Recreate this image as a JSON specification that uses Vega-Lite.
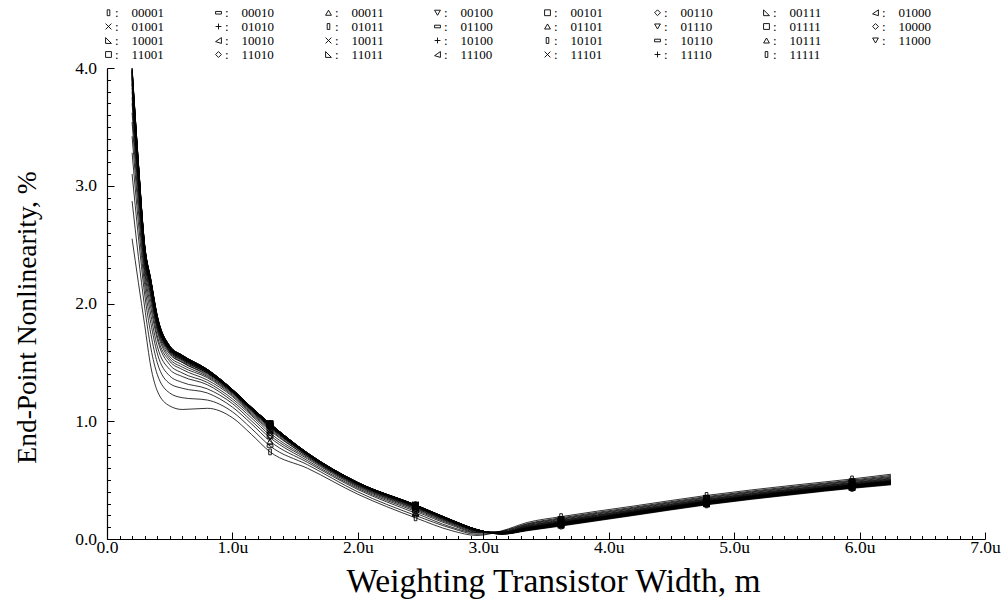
{
"$schema": "https://vega.github.io/schema/vega-lite/v6.json",
"width": 878, "height": 471,
"autosize": {"type": "none"},
"padding": {"left": 107, "top": 68, "right": 23, "bottom": 67},
"background": "white",
"config": {"view": {"stroke": null}, "font": "Liberation Serif"},
"data": {"values": [
{"s":"00001","x":0.2,"y":2.55},{"s":"00001","x":0.25,"y":2.18},{"s":"00001","x":0.3,"y":1.82},{"s":"00001","x":0.35,"y":1.46},{"s":"00001","x":0.4,"y":1.26},{"s":"00001","x":0.5,"y":1.13},{"s":"00001","x":0.6,"y":1.10},{"s":"00001","x":0.8,"y":1.11},{"s":"00001","x":1,"y":1.03},{"s":"00001","x":1.15,"y":0.89},{"s":"00001","x":1.3,"y":0.74},{"s":"00001","x":1.6,"y":0.60},{"s":"00001","x":2,"y":0.38},{"s":"00001","x":2.46,"y":0.18},{"s":"00001","x":2.75,"y":0.07},{"s":"00001","x":2.95,"y":0.03},{"s":"00001","x":3.15,"y":0.07},{"s":"00001","x":3.35,"y":0.14},{"s":"00001","x":3.62,"y":0.19},{"s":"00001","x":4.2,"y":0.28},{"s":"00001","x":4.78,"y":0.37},{"s":"00001","x":5.5,"y":0.46},{"s":"00001","x":5.94,"y":0.51},{"s":"00001","x":6.25,"y":0.55},
{"s":"00010","x":0.2,"y":2.87},{"s":"00010","x":0.25,"y":2.40},{"s":"00010","x":0.3,"y":1.97},{"s":"00010","x":0.35,"y":1.62},{"s":"00010","x":0.4,"y":1.40},{"s":"00010","x":0.5,"y":1.24},{"s":"00010","x":0.6,"y":1.20},{"s":"00010","x":0.8,"y":1.18},{"s":"00010","x":1,"y":1.08},{"s":"00010","x":1.15,"y":0.94},{"s":"00010","x":1.3,"y":0.79},{"s":"00010","x":1.6,"y":0.63},{"s":"00010","x":2,"y":0.40},{"s":"00010","x":2.46,"y":0.20},{"s":"00010","x":2.75,"y":0.09},{"s":"00010","x":2.95,"y":0.04},{"s":"00010","x":3.15,"y":0.066},{"s":"00010","x":3.35,"y":0.13},{"s":"00010","x":3.62,"y":0.18},{"s":"00010","x":4.2,"y":0.27},{"s":"00010","x":4.78,"y":0.36},{"s":"00010","x":5.5,"y":0.45},{"s":"00010","x":5.94,"y":0.50},{"s":"00010","x":6.25,"y":0.54},
{"s":"00011","x":0.2,"y":3.10},{"s":"00011","x":0.25,"y":2.57},{"s":"00011","x":0.3,"y":2.08},{"s":"00011","x":0.35,"y":1.74},{"s":"00011","x":0.4,"y":1.50},{"s":"00011","x":0.5,"y":1.32},{"s":"00011","x":0.6,"y":1.28},{"s":"00011","x":0.8,"y":1.24},{"s":"00011","x":1,"y":1.12},{"s":"00011","x":1.15,"y":0.98},{"s":"00011","x":1.3,"y":0.83},{"s":"00011","x":1.6,"y":0.65},{"s":"00011","x":2,"y":0.42},{"s":"00011","x":2.46,"y":0.22},{"s":"00011","x":2.75,"y":0.10},{"s":"00011","x":2.95,"y":0.05},{"s":"00011","x":3.15,"y":0.064},{"s":"00011","x":3.35,"y":0.125},{"s":"00011","x":3.62,"y":0.173},{"s":"00011","x":4.2,"y":0.263},{"s":"00011","x":4.78,"y":0.353},{"s":"00011","x":5.5,"y":0.443},{"s":"00011","x":5.94,"y":0.493},{"s":"00011","x":6.25,"y":0.531},
{"s":"00100","x":0.2,"y":3.28},{"s":"00100","x":0.25,"y":2.69},{"s":"00100","x":0.3,"y":2.16},{"s":"00100","x":0.35,"y":1.83},{"s":"00100","x":0.4,"y":1.58},{"s":"00100","x":0.5,"y":1.385},{"s":"00100","x":0.6,"y":1.33},{"s":"00100","x":0.8,"y":1.275},{"s":"00100","x":1,"y":1.15},{"s":"00100","x":1.15,"y":1.005},{"s":"00100","x":1.3,"y":0.86},{"s":"00100","x":1.6,"y":0.665},{"s":"00100","x":2,"y":0.43},{"s":"00100","x":2.46,"y":0.235},{"s":"00100","x":2.75,"y":0.115},{"s":"00100","x":2.95,"y":0.055},{"s":"00100","x":3.15,"y":0.061},{"s":"00100","x":3.35,"y":0.12},{"s":"00100","x":3.62,"y":0.167},{"s":"00100","x":4.2,"y":0.257},{"s":"00100","x":4.78,"y":0.347},{"s":"00100","x":5.5,"y":0.437},{"s":"00100","x":5.94,"y":0.487},{"s":"00100","x":6.25,"y":0.524},
{"s":"00101","x":0.2,"y":3.42},{"s":"00101","x":0.25,"y":2.79},{"s":"00101","x":0.3,"y":2.23},{"s":"00101","x":0.35,"y":1.90},{"s":"00101","x":0.4,"y":1.64},{"s":"00101","x":0.5,"y":1.44},{"s":"00101","x":0.6,"y":1.38},{"s":"00101","x":0.8,"y":1.31},{"s":"00101","x":1,"y":1.17},{"s":"00101","x":1.15,"y":1.03},{"s":"00101","x":1.3,"y":0.88},{"s":"00101","x":1.6,"y":0.68},{"s":"00101","x":2,"y":0.44},{"s":"00101","x":2.46,"y":0.246},{"s":"00101","x":2.75,"y":0.124},{"s":"00101","x":2.95,"y":0.06},{"s":"00101","x":3.15,"y":0.059},{"s":"00101","x":3.35,"y":0.114},{"s":"00101","x":3.62,"y":0.16},{"s":"00101","x":4.2,"y":0.25},{"s":"00101","x":4.78,"y":0.34},{"s":"00101","x":5.5,"y":0.43},{"s":"00101","x":5.94,"y":0.48},{"s":"00101","x":6.25,"y":0.517},
{"s":"00110","x":0.2,"y":3.54},{"s":"00110","x":0.25,"y":2.87},{"s":"00110","x":0.3,"y":2.28},{"s":"00110","x":0.35,"y":1.96},{"s":"00110","x":0.4,"y":1.70},{"s":"00110","x":0.5,"y":1.48},{"s":"00110","x":0.6,"y":1.41},{"s":"00110","x":0.8,"y":1.33},{"s":"00110","x":1,"y":1.19},{"s":"00110","x":1.15,"y":1.05},{"s":"00110","x":1.3,"y":0.90},{"s":"00110","x":1.6,"y":0.69},{"s":"00110","x":2,"y":0.448},{"s":"00110","x":2.46,"y":0.255},{"s":"00110","x":2.75,"y":0.131},{"s":"00110","x":2.95,"y":0.064},{"s":"00110","x":3.15,"y":0.057},{"s":"00110","x":3.35,"y":0.11},{"s":"00110","x":3.62,"y":0.156},{"s":"00110","x":4.2,"y":0.246},{"s":"00110","x":4.78,"y":0.336},{"s":"00110","x":5.5,"y":0.426},{"s":"00110","x":5.94,"y":0.476},{"s":"00110","x":6.25,"y":0.511},
{"s":"00111","x":0.2,"y":3.62},{"s":"00111","x":0.25,"y":2.94},{"s":"00111","x":0.3,"y":2.32},{"s":"00111","x":0.35,"y":2.01},{"s":"00111","x":0.4,"y":1.73},{"s":"00111","x":0.5,"y":1.51},{"s":"00111","x":0.6,"y":1.44},{"s":"00111","x":0.8,"y":1.35},{"s":"00111","x":1,"y":1.21},{"s":"00111","x":1.15,"y":1.06},{"s":"00111","x":1.3,"y":0.92},{"s":"00111","x":1.6,"y":0.70},{"s":"00111","x":2,"y":0.454},{"s":"00111","x":2.46,"y":0.261},{"s":"00111","x":2.75,"y":0.137},{"s":"00111","x":2.95,"y":0.067},{"s":"00111","x":3.15,"y":0.055},{"s":"00111","x":3.35,"y":0.106},{"s":"00111","x":3.62,"y":0.151},{"s":"00111","x":4.2,"y":0.241},{"s":"00111","x":4.78,"y":0.331},{"s":"00111","x":5.5,"y":0.421},{"s":"00111","x":5.94,"y":0.471},{"s":"00111","x":6.25,"y":0.506},
{"s":"01000","x":0.2,"y":3.70},{"s":"01000","x":0.25,"y":2.99},{"s":"01000","x":0.3,"y":2.36},{"s":"01000","x":0.35,"y":2.05},{"s":"01000","x":0.4,"y":1.77},{"s":"01000","x":0.5,"y":1.53},{"s":"01000","x":0.6,"y":1.46},{"s":"01000","x":0.8,"y":1.37},{"s":"01000","x":1,"y":1.22},{"s":"01000","x":1.15,"y":1.07},{"s":"01000","x":1.3,"y":0.93},{"s":"01000","x":1.6,"y":0.70},{"s":"01000","x":2,"y":0.459},{"s":"01000","x":2.46,"y":0.267},{"s":"01000","x":2.75,"y":0.141},{"s":"01000","x":2.95,"y":0.069},{"s":"01000","x":3.15,"y":0.054},{"s":"01000","x":3.35,"y":0.102},{"s":"01000","x":3.62,"y":0.147},{"s":"01000","x":4.2,"y":0.237},{"s":"01000","x":4.78,"y":0.327},{"s":"01000","x":5.5,"y":0.417},{"s":"01000","x":5.94,"y":0.467},{"s":"01000","x":6.25,"y":0.501},
{"s":"01001","x":0.2,"y":3.75},{"s":"01001","x":0.25,"y":3.03},{"s":"01001","x":0.3,"y":2.38},{"s":"01001","x":0.35,"y":2.07},{"s":"01001","x":0.4,"y":1.79},{"s":"01001","x":0.5,"y":1.55},{"s":"01001","x":0.6,"y":1.48},{"s":"01001","x":0.8,"y":1.38},{"s":"01001","x":1,"y":1.23},{"s":"01001","x":1.15,"y":1.08},{"s":"01001","x":1.3,"y":0.94},{"s":"01001","x":1.6,"y":0.71},{"s":"01001","x":2,"y":0.463},{"s":"01001","x":2.46,"y":0.271},{"s":"01001","x":2.75,"y":0.145},{"s":"01001","x":2.95,"y":0.071},{"s":"01001","x":3.15,"y":0.052},{"s":"01001","x":3.35,"y":0.099},{"s":"01001","x":3.62,"y":0.143},{"s":"01001","x":4.2,"y":0.233},{"s":"01001","x":4.78,"y":0.323},{"s":"01001","x":5.5,"y":0.413},{"s":"01001","x":5.94,"y":0.463},{"s":"01001","x":6.25,"y":0.497},
{"s":"01010","x":0.2,"y":3.80},{"s":"01010","x":0.25,"y":3.06},{"s":"01010","x":0.3,"y":2.41},{"s":"01010","x":0.35,"y":2.10},{"s":"01010","x":0.4,"y":1.81},{"s":"01010","x":0.5,"y":1.57},{"s":"01010","x":0.6,"y":1.50},{"s":"01010","x":0.8,"y":1.39},{"s":"01010","x":1,"y":1.24},{"s":"01010","x":1.15,"y":1.09},{"s":"01010","x":1.3,"y":0.95},{"s":"01010","x":1.6,"y":0.71},{"s":"01010","x":2,"y":0.466},{"s":"01010","x":2.46,"y":0.275},{"s":"01010","x":2.75,"y":0.147},{"s":"01010","x":2.95,"y":0.073},{"s":"01010","x":3.15,"y":0.051},{"s":"01010","x":3.35,"y":0.096},{"s":"01010","x":3.62,"y":0.14},{"s":"01010","x":4.2,"y":0.23},{"s":"01010","x":4.78,"y":0.32},{"s":"01010","x":5.5,"y":0.41},{"s":"01010","x":5.94,"y":0.46},{"s":"01010","x":6.25,"y":0.493},
{"s":"01011","x":0.2,"y":3.83},{"s":"01011","x":0.25,"y":3.08},{"s":"01011","x":0.3,"y":2.42},{"s":"01011","x":0.35,"y":2.11},{"s":"01011","x":0.4,"y":1.82},{"s":"01011","x":0.5,"y":1.58},{"s":"01011","x":0.6,"y":1.50},{"s":"01011","x":0.8,"y":1.40},{"s":"01011","x":1,"y":1.24},{"s":"01011","x":1.15,"y":1.09},{"s":"01011","x":1.3,"y":0.95},{"s":"01011","x":1.6,"y":0.714},{"s":"01011","x":2,"y":0.468},{"s":"01011","x":2.46,"y":0.277},{"s":"01011","x":2.75,"y":0.149},{"s":"01011","x":2.95,"y":0.074},{"s":"01011","x":3.15,"y":0.05},{"s":"01011","x":3.35,"y":0.094},{"s":"01011","x":3.62,"y":0.138},{"s":"01011","x":4.2,"y":0.228},{"s":"01011","x":4.78,"y":0.318},{"s":"01011","x":5.5,"y":0.408},{"s":"01011","x":5.94,"y":0.458},{"s":"01011","x":6.25,"y":0.492},
{"s":"01100","x":0.2,"y":3.86},{"s":"01100","x":0.25,"y":3.10},{"s":"01100","x":0.3,"y":2.43},{"s":"01100","x":0.35,"y":2.13},{"s":"01100","x":0.4,"y":1.84},{"s":"01100","x":0.5,"y":1.59},{"s":"01100","x":0.6,"y":1.51},{"s":"01100","x":0.8,"y":1.41},{"s":"01100","x":1,"y":1.25},{"s":"01100","x":1.15,"y":1.10},{"s":"01100","x":1.3,"y":0.96},{"s":"01100","x":1.6,"y":0.717},{"s":"01100","x":2,"y":0.47},{"s":"01100","x":2.46,"y":0.279},{"s":"01100","x":2.75,"y":0.151},{"s":"01100","x":2.95,"y":0.075},{"s":"01100","x":3.15,"y":0.05},{"s":"01100","x":3.35,"y":0.092},{"s":"01100","x":3.62,"y":0.136},{"s":"01100","x":4.2,"y":0.226},{"s":"01100","x":4.78,"y":0.316},{"s":"01100","x":5.5,"y":0.406},{"s":"01100","x":5.94,"y":0.456},{"s":"01100","x":6.25,"y":0.489},
{"s":"01101","x":0.2,"y":3.87},{"s":"01101","x":0.25,"y":3.11},{"s":"01101","x":0.3,"y":2.44},{"s":"01101","x":0.35,"y":2.13},{"s":"01101","x":0.4,"y":1.84},{"s":"01101","x":0.5,"y":1.59},{"s":"01101","x":0.6,"y":1.52},{"s":"01101","x":0.8,"y":1.41},{"s":"01101","x":1,"y":1.25},{"s":"01101","x":1.15,"y":1.10},{"s":"01101","x":1.3,"y":0.96},{"s":"01101","x":1.6,"y":0.718},{"s":"01101","x":2,"y":0.471},{"s":"01101","x":2.46,"y":0.28},{"s":"01101","x":2.75,"y":0.152},{"s":"01101","x":2.95,"y":0.076},{"s":"01101","x":3.15,"y":0.049},{"s":"01101","x":3.35,"y":0.091},{"s":"01101","x":3.62,"y":0.134},{"s":"01101","x":4.2,"y":0.224},{"s":"01101","x":4.78,"y":0.314},{"s":"01101","x":5.5,"y":0.404},{"s":"01101","x":5.94,"y":0.454},{"s":"01101","x":6.25,"y":0.487},
{"s":"01110","x":0.2,"y":3.88},{"s":"01110","x":0.25,"y":3.12},{"s":"01110","x":0.3,"y":2.45},{"s":"01110","x":0.35,"y":2.14},{"s":"01110","x":0.4,"y":1.85},{"s":"01110","x":0.5,"y":1.60},{"s":"01110","x":0.6,"y":1.52},{"s":"01110","x":0.8,"y":1.41},{"s":"01110","x":1,"y":1.25},{"s":"01110","x":1.15,"y":1.10},{"s":"01110","x":1.3,"y":0.96},{"s":"01110","x":1.6,"y":0.72},{"s":"01110","x":2,"y":0.472},{"s":"01110","x":2.46,"y":0.281},{"s":"01110","x":2.75,"y":0.153},{"s":"01110","x":2.95,"y":0.076},{"s":"01110","x":3.15,"y":0.048},{"s":"01110","x":3.35,"y":0.09},{"s":"01110","x":3.62,"y":0.132},{"s":"01110","x":4.2,"y":0.222},{"s":"01110","x":4.78,"y":0.312},{"s":"01110","x":5.5,"y":0.402},{"s":"01110","x":5.94,"y":0.452},{"s":"01110","x":6.25,"y":0.485},
{"s":"01111","x":0.2,"y":3.90},{"s":"01111","x":0.25,"y":3.13},{"s":"01111","x":0.3,"y":2.45},{"s":"01111","x":0.35,"y":2.15},{"s":"01111","x":0.4,"y":1.86},{"s":"01111","x":0.5,"y":1.60},{"s":"01111","x":0.6,"y":1.53},{"s":"01111","x":0.8,"y":1.42},{"s":"01111","x":1,"y":1.25},{"s":"01111","x":1.15,"y":1.10},{"s":"01111","x":1.3,"y":0.96},{"s":"01111","x":1.6,"y":0.721},{"s":"01111","x":2,"y":0.473},{"s":"01111","x":2.46,"y":0.282},{"s":"01111","x":2.75,"y":0.154},{"s":"01111","x":2.95,"y":0.077},{"s":"01111","x":3.15,"y":0.048},{"s":"01111","x":3.35,"y":0.088},{"s":"01111","x":3.62,"y":0.131},{"s":"01111","x":4.2,"y":0.221},{"s":"01111","x":4.78,"y":0.311},{"s":"01111","x":5.5,"y":0.401},{"s":"01111","x":5.94,"y":0.451},{"s":"01111","x":6.25,"y":0.483},
{"s":"10000","x":0.2,"y":3.91},{"s":"10000","x":0.25,"y":3.14},{"s":"10000","x":0.3,"y":2.46},{"s":"10000","x":0.35,"y":2.16},{"s":"10000","x":0.4,"y":1.86},{"s":"10000","x":0.5,"y":1.61},{"s":"10000","x":0.6,"y":1.53},{"s":"10000","x":0.8,"y":1.42},{"s":"10000","x":1,"y":1.26},{"s":"10000","x":1.15,"y":1.11},{"s":"10000","x":1.3,"y":0.97},{"s":"10000","x":1.6,"y":0.722},{"s":"10000","x":2,"y":0.474},{"s":"10000","x":2.46,"y":0.283},{"s":"10000","x":2.75,"y":0.155},{"s":"10000","x":2.95,"y":0.077},{"s":"10000","x":3.15,"y":0.047},{"s":"10000","x":3.35,"y":0.087},{"s":"10000","x":3.62,"y":0.129},{"s":"10000","x":4.2,"y":0.219},{"s":"10000","x":4.78,"y":0.309},{"s":"10000","x":5.5,"y":0.399},{"s":"10000","x":5.94,"y":0.449},{"s":"10000","x":6.25,"y":0.482},
{"s":"10001","x":0.2,"y":3.92},{"s":"10001","x":0.25,"y":3.14},{"s":"10001","x":0.3,"y":2.46},{"s":"10001","x":0.35,"y":2.16},{"s":"10001","x":0.4,"y":1.86},{"s":"10001","x":0.5,"y":1.61},{"s":"10001","x":0.6,"y":1.53},{"s":"10001","x":0.8,"y":1.42},{"s":"10001","x":1,"y":1.26},{"s":"10001","x":1.15,"y":1.11},{"s":"10001","x":1.3,"y":0.97},{"s":"10001","x":1.6,"y":0.723},{"s":"10001","x":2,"y":0.475},{"s":"10001","x":2.46,"y":0.284},{"s":"10001","x":2.75,"y":0.155},{"s":"10001","x":2.95,"y":0.077},{"s":"10001","x":3.15,"y":0.047},{"s":"10001","x":3.35,"y":0.086},{"s":"10001","x":3.62,"y":0.128},{"s":"10001","x":4.2,"y":0.218},{"s":"10001","x":4.78,"y":0.308},{"s":"10001","x":5.5,"y":0.398},{"s":"10001","x":5.94,"y":0.448},{"s":"10001","x":6.25,"y":0.481},
{"s":"10010","x":0.2,"y":3.93},{"s":"10010","x":0.25,"y":3.15},{"s":"10010","x":0.3,"y":2.47},{"s":"10010","x":0.35,"y":2.16},{"s":"10010","x":0.4,"y":1.87},{"s":"10010","x":0.5,"y":1.61},{"s":"10010","x":0.6,"y":1.54},{"s":"10010","x":0.8,"y":1.42},{"s":"10010","x":1,"y":1.26},{"s":"10010","x":1.15,"y":1.11},{"s":"10010","x":1.3,"y":0.97},{"s":"10010","x":1.6,"y":0.724},{"s":"10010","x":2,"y":0.475},{"s":"10010","x":2.46,"y":0.285},{"s":"10010","x":2.75,"y":0.156},{"s":"10010","x":2.95,"y":0.078},{"s":"10010","x":3.15,"y":0.047},{"s":"10010","x":3.35,"y":0.085},{"s":"10010","x":3.62,"y":0.128},{"s":"10010","x":4.2,"y":0.218},{"s":"10010","x":4.78,"y":0.308},{"s":"10010","x":5.5,"y":0.398},{"s":"10010","x":5.94,"y":0.448},{"s":"10010","x":6.25,"y":0.48},
{"s":"10011","x":0.2,"y":3.93},{"s":"10011","x":0.25,"y":3.15},{"s":"10011","x":0.3,"y":2.47},{"s":"10011","x":0.35,"y":2.17},{"s":"10011","x":0.4,"y":1.87},{"s":"10011","x":0.5,"y":1.62},{"s":"10011","x":0.6,"y":1.54},{"s":"10011","x":0.8,"y":1.43},{"s":"10011","x":1,"y":1.26},{"s":"10011","x":1.15,"y":1.11},{"s":"10011","x":1.3,"y":0.97},{"s":"10011","x":1.6,"y":0.724},{"s":"10011","x":2,"y":0.476},{"s":"10011","x":2.46,"y":0.285},{"s":"10011","x":2.75,"y":0.156},{"s":"10011","x":2.95,"y":0.078},{"s":"10011","x":3.15,"y":0.046},{"s":"10011","x":3.35,"y":0.085},{"s":"10011","x":3.62,"y":0.127},{"s":"10011","x":4.2,"y":0.217},{"s":"10011","x":4.78,"y":0.307},{"s":"10011","x":5.5,"y":0.397},{"s":"10011","x":5.94,"y":0.447},{"s":"10011","x":6.25,"y":0.479},
{"s":"10100","x":0.2,"y":3.94},{"s":"10100","x":0.25,"y":3.16},{"s":"10100","x":0.3,"y":2.47},{"s":"10100","x":0.35,"y":2.17},{"s":"10100","x":0.4,"y":1.87},{"s":"10100","x":0.5,"y":1.62},{"s":"10100","x":0.6,"y":1.54},{"s":"10100","x":0.8,"y":1.43},{"s":"10100","x":1,"y":1.26},{"s":"10100","x":1.15,"y":1.11},{"s":"10100","x":1.3,"y":0.97},{"s":"10100","x":1.6,"y":0.725},{"s":"10100","x":2,"y":0.476},{"s":"10100","x":2.46,"y":0.286},{"s":"10100","x":2.75,"y":0.156},{"s":"10100","x":2.95,"y":0.078},{"s":"10100","x":3.15,"y":0.046},{"s":"10100","x":3.35,"y":0.084},{"s":"10100","x":3.62,"y":0.126},{"s":"10100","x":4.2,"y":0.216},{"s":"10100","x":4.78,"y":0.306},{"s":"10100","x":5.5,"y":0.396},{"s":"10100","x":5.94,"y":0.446},{"s":"10100","x":6.25,"y":0.478},
{"s":"10101","x":0.2,"y":3.95},{"s":"10101","x":0.25,"y":3.16},{"s":"10101","x":0.3,"y":2.48},{"s":"10101","x":0.35,"y":2.17},{"s":"10101","x":0.4,"y":1.88},{"s":"10101","x":0.5,"y":1.62},{"s":"10101","x":0.6,"y":1.54},{"s":"10101","x":0.8,"y":1.43},{"s":"10101","x":1,"y":1.26},{"s":"10101","x":1.15,"y":1.11},{"s":"10101","x":1.3,"y":0.97},{"s":"10101","x":1.6,"y":0.725},{"s":"10101","x":2,"y":0.477},{"s":"10101","x":2.46,"y":0.286},{"s":"10101","x":2.75,"y":0.157},{"s":"10101","x":2.95,"y":0.078},{"s":"10101","x":3.15,"y":0.046},{"s":"10101","x":3.35,"y":0.083},{"s":"10101","x":3.62,"y":0.125},{"s":"10101","x":4.2,"y":0.215},{"s":"10101","x":4.78,"y":0.305},{"s":"10101","x":5.5,"y":0.395},{"s":"10101","x":5.94,"y":0.445},{"s":"10101","x":6.25,"y":0.477},
{"s":"10110","x":0.2,"y":3.96},{"s":"10110","x":0.25,"y":3.17},{"s":"10110","x":0.3,"y":2.48},{"s":"10110","x":0.35,"y":2.18},{"s":"10110","x":0.4,"y":1.88},{"s":"10110","x":0.5,"y":1.62},{"s":"10110","x":0.6,"y":1.55},{"s":"10110","x":0.8,"y":1.43},{"s":"10110","x":1,"y":1.26},{"s":"10110","x":1.15,"y":1.11},{"s":"10110","x":1.3,"y":0.97},{"s":"10110","x":1.6,"y":0.726},{"s":"10110","x":2,"y":0.477},{"s":"10110","x":2.46,"y":0.287},{"s":"10110","x":2.75,"y":0.157},{"s":"10110","x":2.95,"y":0.079},{"s":"10110","x":3.15,"y":0.045},{"s":"10110","x":3.35,"y":0.082},{"s":"10110","x":3.62,"y":0.124},{"s":"10110","x":4.2,"y":0.214},{"s":"10110","x":4.78,"y":0.304},{"s":"10110","x":5.5,"y":0.394},{"s":"10110","x":5.94,"y":0.444},{"s":"10110","x":6.25,"y":0.475},
{"s":"10111","x":0.2,"y":3.96},{"s":"10111","x":0.25,"y":3.17},{"s":"10111","x":0.3,"y":2.48},{"s":"10111","x":0.35,"y":2.18},{"s":"10111","x":0.4,"y":1.88},{"s":"10111","x":0.5,"y":1.63},{"s":"10111","x":0.6,"y":1.55},{"s":"10111","x":0.8,"y":1.43},{"s":"10111","x":1,"y":1.26},{"s":"10111","x":1.15,"y":1.11},{"s":"10111","x":1.3,"y":0.97},{"s":"10111","x":1.6,"y":0.727},{"s":"10111","x":2,"y":0.478},{"s":"10111","x":2.46,"y":0.287},{"s":"10111","x":2.75,"y":0.158},{"s":"10111","x":2.95,"y":0.079},{"s":"10111","x":3.15,"y":0.045},{"s":"10111","x":3.35,"y":0.081},{"s":"10111","x":3.62,"y":0.123},{"s":"10111","x":4.2,"y":0.213},{"s":"10111","x":4.78,"y":0.303},{"s":"10111","x":5.5,"y":0.393},{"s":"10111","x":5.94,"y":0.443},{"s":"10111","x":6.25,"y":0.474},
{"s":"11000","x":0.2,"y":3.97},{"s":"11000","x":0.25,"y":3.18},{"s":"11000","x":0.3,"y":2.49},{"s":"11000","x":0.35,"y":2.19},{"s":"11000","x":0.4,"y":1.89},{"s":"11000","x":0.5,"y":1.63},{"s":"11000","x":0.6,"y":1.55},{"s":"11000","x":0.8,"y":1.43},{"s":"11000","x":1,"y":1.27},{"s":"11000","x":1.15,"y":1.12},{"s":"11000","x":1.3,"y":0.98},{"s":"11000","x":1.6,"y":0.727},{"s":"11000","x":2,"y":0.478},{"s":"11000","x":2.46,"y":0.288},{"s":"11000","x":2.75,"y":0.158},{"s":"11000","x":2.95,"y":0.079},{"s":"11000","x":3.15,"y":0.044},{"s":"11000","x":3.35,"y":0.08},{"s":"11000","x":3.62,"y":0.121},{"s":"11000","x":4.2,"y":0.211},{"s":"11000","x":4.78,"y":0.301},{"s":"11000","x":5.5,"y":0.391},{"s":"11000","x":5.94,"y":0.441},{"s":"11000","x":6.25,"y":0.473},
{"s":"11001","x":0.2,"y":3.98},{"s":"11001","x":0.25,"y":3.18},{"s":"11001","x":0.3,"y":2.49},{"s":"11001","x":0.35,"y":2.19},{"s":"11001","x":0.4,"y":1.89},{"s":"11001","x":0.5,"y":1.63},{"s":"11001","x":0.6,"y":1.55},{"s":"11001","x":0.8,"y":1.43},{"s":"11001","x":1,"y":1.27},{"s":"11001","x":1.15,"y":1.12},{"s":"11001","x":1.3,"y":0.98},{"s":"11001","x":1.6,"y":0.728},{"s":"11001","x":2,"y":0.478},{"s":"11001","x":2.46,"y":0.288},{"s":"11001","x":2.75,"y":0.158},{"s":"11001","x":2.95,"y":0.079},{"s":"11001","x":3.15,"y":0.044},{"s":"11001","x":3.35,"y":0.079},{"s":"11001","x":3.62,"y":0.12},{"s":"11001","x":4.2,"y":0.21},{"s":"11001","x":4.78,"y":0.30},{"s":"11001","x":5.5,"y":0.39},{"s":"11001","x":5.94,"y":0.44},{"s":"11001","x":6.25,"y":0.472},
{"s":"11010","x":0.2,"y":3.98},{"s":"11010","x":0.25,"y":3.19},{"s":"11010","x":0.3,"y":2.49},{"s":"11010","x":0.35,"y":2.19},{"s":"11010","x":0.4,"y":1.89},{"s":"11010","x":0.5,"y":1.63},{"s":"11010","x":0.6,"y":1.55},{"s":"11010","x":0.8,"y":1.44},{"s":"11010","x":1,"y":1.27},{"s":"11010","x":1.15,"y":1.12},{"s":"11010","x":1.3,"y":0.98},{"s":"11010","x":1.6,"y":0.728},{"s":"11010","x":2,"y":0.479},{"s":"11010","x":2.46,"y":0.288},{"s":"11010","x":2.75,"y":0.159},{"s":"11010","x":2.95,"y":0.079},{"s":"11010","x":3.15,"y":0.044},{"s":"11010","x":3.35,"y":0.078},{"s":"11010","x":3.62,"y":0.12},{"s":"11010","x":4.2,"y":0.21},{"s":"11010","x":4.78,"y":0.30},{"s":"11010","x":5.5,"y":0.39},{"s":"11010","x":5.94,"y":0.44},{"s":"11010","x":6.25,"y":0.471},
{"s":"11011","x":0.2,"y":3.98},{"s":"11011","x":0.25,"y":3.19},{"s":"11011","x":0.3,"y":2.49},{"s":"11011","x":0.35,"y":2.19},{"s":"11011","x":0.4,"y":1.89},{"s":"11011","x":0.5,"y":1.63},{"s":"11011","x":0.6,"y":1.56},{"s":"11011","x":0.8,"y":1.44},{"s":"11011","x":1,"y":1.27},{"s":"11011","x":1.15,"y":1.12},{"s":"11011","x":1.3,"y":0.98},{"s":"11011","x":1.6,"y":0.729},{"s":"11011","x":2,"y":0.479},{"s":"11011","x":2.46,"y":0.289},{"s":"11011","x":2.75,"y":0.159},{"s":"11011","x":2.95,"y":0.08},{"s":"11011","x":3.15,"y":0.043},{"s":"11011","x":3.35,"y":0.077},{"s":"11011","x":3.62,"y":0.118},{"s":"11011","x":4.2,"y":0.208},{"s":"11011","x":4.78,"y":0.298},{"s":"11011","x":5.5,"y":0.388},{"s":"11011","x":5.94,"y":0.438},{"s":"11011","x":6.25,"y":0.469},
{"s":"11100","x":0.2,"y":3.99},{"s":"11100","x":0.25,"y":3.19},{"s":"11100","x":0.3,"y":2.49},{"s":"11100","x":0.35,"y":2.19},{"s":"11100","x":0.4,"y":1.89},{"s":"11100","x":0.5,"y":1.64},{"s":"11100","x":0.6,"y":1.56},{"s":"11100","x":0.8,"y":1.44},{"s":"11100","x":1,"y":1.27},{"s":"11100","x":1.15,"y":1.12},{"s":"11100","x":1.3,"y":0.98},{"s":"11100","x":1.6,"y":0.729},{"s":"11100","x":2,"y":0.479},{"s":"11100","x":2.46,"y":0.289},{"s":"11100","x":2.75,"y":0.159},{"s":"11100","x":2.95,"y":0.08},{"s":"11100","x":3.15,"y":0.043},{"s":"11100","x":3.35,"y":0.076},{"s":"11100","x":3.62,"y":0.117},{"s":"11100","x":4.2,"y":0.207},{"s":"11100","x":4.78,"y":0.297},{"s":"11100","x":5.5,"y":0.387},{"s":"11100","x":5.94,"y":0.437},{"s":"11100","x":6.25,"y":0.468},
{"s":"11101","x":0.2,"y":3.99},{"s":"11101","x":0.25,"y":3.20},{"s":"11101","x":0.3,"y":2.50},{"s":"11101","x":0.35,"y":2.20},{"s":"11101","x":0.4,"y":1.90},{"s":"11101","x":0.5,"y":1.64},{"s":"11101","x":0.6,"y":1.56},{"s":"11101","x":0.8,"y":1.44},{"s":"11101","x":1,"y":1.27},{"s":"11101","x":1.15,"y":1.12},{"s":"11101","x":1.3,"y":0.98},{"s":"11101","x":1.6,"y":0.73},{"s":"11101","x":2,"y":0.48},{"s":"11101","x":2.46,"y":0.29},{"s":"11101","x":2.75,"y":0.16},{"s":"11101","x":2.95,"y":0.08},{"s":"11101","x":3.15,"y":0.042},{"s":"11101","x":3.35,"y":0.075},{"s":"11101","x":3.62,"y":0.116},{"s":"11101","x":4.2,"y":0.206},{"s":"11101","x":4.78,"y":0.296},{"s":"11101","x":5.5,"y":0.386},{"s":"11101","x":5.94,"y":0.436},{"s":"11101","x":6.25,"y":0.466},
{"s":"11110","x":0.2,"y":4.00},{"s":"11110","x":0.25,"y":3.20},{"s":"11110","x":0.3,"y":2.50},{"s":"11110","x":0.35,"y":2.20},{"s":"11110","x":0.4,"y":1.90},{"s":"11110","x":0.5,"y":1.64},{"s":"11110","x":0.6,"y":1.56},{"s":"11110","x":0.8,"y":1.44},{"s":"11110","x":1,"y":1.27},{"s":"11110","x":1.15,"y":1.12},{"s":"11110","x":1.3,"y":0.98},{"s":"11110","x":1.6,"y":0.73},{"s":"11110","x":2,"y":0.48},{"s":"11110","x":2.46,"y":0.29},{"s":"11110","x":2.75,"y":0.16},{"s":"11110","x":2.95,"y":0.08},{"s":"11110","x":3.15,"y":0.042},{"s":"11110","x":3.35,"y":0.074},{"s":"11110","x":3.62,"y":0.114},{"s":"11110","x":4.2,"y":0.204},{"s":"11110","x":4.78,"y":0.294},{"s":"11110","x":5.5,"y":0.384},{"s":"11110","x":5.94,"y":0.434},{"s":"11110","x":6.25,"y":0.465},
{"s":"11111","x":0.2,"y":4.00},{"s":"11111","x":0.25,"y":3.20},{"s":"11111","x":0.3,"y":2.50},{"s":"11111","x":0.35,"y":2.20},{"s":"11111","x":0.4,"y":1.90},{"s":"11111","x":0.5,"y":1.64},{"s":"11111","x":0.6,"y":1.56},{"s":"11111","x":0.8,"y":1.44},{"s":"11111","x":1,"y":1.27},{"s":"11111","x":1.15,"y":1.12},{"s":"11111","x":1.3,"y":0.98},{"s":"11111","x":1.6,"y":0.73},{"s":"11111","x":2,"y":0.48},{"s":"11111","x":2.46,"y":0.29},{"s":"11111","x":2.75,"y":0.16},{"s":"11111","x":2.95,"y":0.08},{"s":"11111","x":3.15,"y":0.04},{"s":"11111","x":3.35,"y":0.07},{"s":"11111","x":3.62,"y":0.11},{"s":"11111","x":4.2,"y":0.20},{"s":"11111","x":4.78,"y":0.29},{"s":"11111","x":5.5,"y":0.38},{"s":"11111","x":5.94,"y":0.43},{"s":"11111","x":6.25,"y":0.46}
]},
"encoding": {
  "x": {"field": "x", "type": "quantitative", "scale": {"domain": [0, 7], "nice": false, "zero": false},
    "axis": {"values": [0,0.1,0.2,0.3,0.4,0.5,0.6,0.7,0.8,0.9,1,1.1,1.2,1.3,1.4,1.5,1.6,1.7,1.8,1.9,2,2.1,2.2,2.3,2.4,2.5,2.6,2.7,2.8,2.9,3,3.1,3.2,3.3,3.4,3.5,3.6,3.7,3.8,3.9,4,4.1,4.2,4.3,4.4,4.5,4.6,4.7,4.8,4.9,5,5.1,5.2,5.3,5.4,5.5,5.6,5.7,5.8,5.9,6,6.1,6.2,6.3,6.4,6.5,6.6,6.7,6.8,6.9,7],
      "labelExpr": "datum.value % 1 === 0 ? (datum.value === 0 ? '0.0' : format(datum.value, '.1f') + 'u') : ''",
      "tickSize": {"condition": {"test": "datum.value % 1 === 0", "value": -7}, "value": -3.5},
      "tickColor": "black", "tickWidth": 1, "domainColor": "black", "domainWidth": 1.2, "grid": false,
      "labelFont": "Liberation Serif", "labelFontSize": 17.5, "labelColor": "black", "labelPadding": 6, "labelOverlap": false, "labelFlush": false,
      "title": "Weighting Transistor Width, m", "titleFont": "Liberation Serif", "titleFontSize": 33.5, "titleFontWeight": "normal", "titleColor": "black",
      "titleX": 446, "titleY": 52, "titleAlign": "center", "titleBaseline": "alphabetic"}},
  "y": {"field": "y", "type": "quantitative", "scale": {"domain": [0, 4], "nice": false, "zero": false},
    "axis": {"values": [0,0.1,0.2,0.3,0.4,0.5,0.6,0.7,0.8,0.9,1,1.1,1.2,1.3,1.4,1.5,1.6,1.7,1.8,1.9,2,2.1,2.2,2.3,2.4,2.5,2.6,2.7,2.8,2.9,3,3.1,3.2,3.3,3.4,3.5,3.6,3.7,3.8,3.9,4],
      "labelExpr": "datum.value % 1 === 0 ? format(datum.value, '.1f') : ''",
      "tickSize": {"condition": {"test": "datum.value % 1 === 0", "value": -7}, "value": -3.5},
      "tickColor": "black", "tickWidth": 1, "domainColor": "black", "domainWidth": 1.2, "grid": false,
      "labelFont": "Liberation Serif", "labelFontSize": 17.5, "labelColor": "black", "labelPadding": 17.5, "labelOverlap": false, "labelFlush": false,
      "title": "End-Point Nonlinearity, %", "titleFont": "Liberation Serif", "titleFontSize": 27.5, "titleFontWeight": "normal", "titleColor": "black",
      "titleX": -72, "titleY": 249, "titleAngle": 270, "titleAlign": "center", "titleBaseline": "alphabetic"}}
},
"layer": [
  {"mark": {"type": "line", "interpolate": "monotone", "color": "black", "strokeWidth": 0.8},
   "encoding": {"detail": {"field": "s", "type": "nominal"}}},
  {"transform": [{"filter": {"field": "x", "oneOf": [1.3, 2.46, 3.62, 4.78, 5.94]}}],
   "mark": {"type": "point", "filled": false, "color": "black", "strokeWidth": 0.9, "opacity": 1},
   "encoding": {
     "shape": {"field": "s", "type": "nominal",
       "scale": {"range": ["M-0.45,-1H0.45V1H-0.45Z","M-1,-0.45H1V0.45H-1Z","triangle-up","triangle-down","square","diamond","M-1,-1L-1,1L1,1Z","M1,-1L-1,0.4L1,1Z","M-1,-1L1,1M-1,1L1,-1","M-1,0H1M0,-1V1",
                          "M-0.45,-1H0.45V1H-0.45Z","M-1,-0.45H1V0.45H-1Z","triangle-up","triangle-down","square","diamond","M-1,-1L-1,1L1,1Z","M1,-1L-1,0.4L1,1Z","M-1,-1L1,1M-1,1L1,-1","M-1,0H1M0,-1V1",
                          "M-0.45,-1H0.45V1H-0.45Z","M-1,-0.45H1V0.45H-1Z","triangle-up","triangle-down","square","diamond","M-1,-1L-1,1L1,1Z","M1,-1L-1,0.4L1,1Z","M-1,-1L1,1M-1,1L1,-1","M-1,0H1M0,-1V1",
                          "M-0.45,-1H0.45V1H-0.45Z"]},
       "legend": {"orient": "none", "legendX": -5, "legendY": -62, "columns": 8, "direction": "horizontal", "title": null, "symbolLimit": 40,
         "labelExpr": "':\u00a0\u00a0\u00a0\u00a0' + datum.label", "labelFont": "Liberation Serif", "labelFontSize": 13, "labelColor": "black",
         "symbolStrokeColor": "black", "symbolFillColor": "transparent", "symbolStrokeWidth": 0.9,
         "columnPadding": 47, "rowPadding": 0, "labelOffset": 0, "padding": 0}},
     "size": {"field": "s", "type": "nominal",
       "scale": {"range": [34,34,34,34,34,34,34,34,34,34,80,80,80,80,80,80,80,80,80,80,34,34,34,34,34,34,34,34,34,34,50]}}
   }}
]
}
